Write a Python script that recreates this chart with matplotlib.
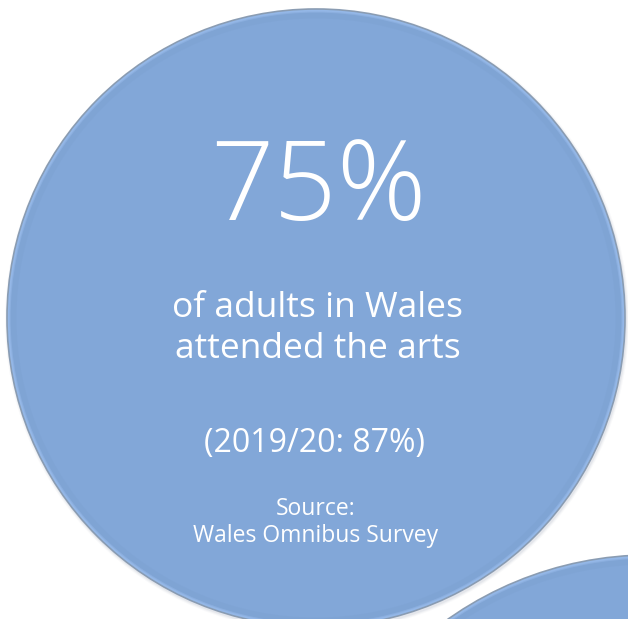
import matplotlib
matplotlib.use("Agg")
import matplotlib.pyplot as plt
from matplotlib.patches import Circle

# headline figures
headline = "75%"
caption_lines = ["of adults in Wales", "attended the arts"]
comparison = "(2019/20: 87%)"
source_lines = ["Source:", "Wales Omnibus Survey"]

FILL = "#82a7d8"
EDGE = "#8a9cb2"
RIM = "#a3c6f4"
FONT = ["Open Sans", "DejaVu Sans"]

W, H = 628, 619
fig = plt.figure(figsize=(W / 100, H / 100), dpi=100)
ax = fig.add_axes([0, 0, 1, 1])
ax.set_xlim(0, W)
ax.set_ylim(H, 0)
ax.set_aspect("equal")
ax.axis("off")


def bubble(cx, cy, r):
    # soft outer shadow
    for i, a in enumerate([0.04, 0.06, 0.09]):
        ax.add_patch(Circle((cx + 1, cy + 2), r + 3 - i, color="#6d7f95", alpha=a, lw=0))
    ax.add_patch(Circle((cx, cy), r, facecolor=FILL, edgecolor=EDGE, lw=1.2))
    ax.add_patch(Circle((cx, cy), r - 2.2, facecolor="none", edgecolor=RIM, lw=2.0, alpha=0.55))
    ax.add_patch(Circle((cx, cy), r - 6, facecolor="none", edgecolor="#7b9fcf", lw=5, alpha=0.35))


bubble(650, 905, 350)
bubble(316, 318, 309)

ax.text(318, 220, headline, ha="center", va="baseline", color="white",
        fontsize=80, family=FONT, fontweight="light")
ax.text(318, 317, caption_lines[0], ha="center", va="baseline", color="white",
        fontsize=25.5, family=FONT)
ax.text(318, 358, caption_lines[1], ha="center", va="baseline", color="white",
        fontsize=25.5, family=FONT)
ax.text(315, 452, comparison, ha="center", va="baseline", color="white",
        fontsize=23, family=FONT)
ax.text(316, 515, source_lines[0], ha="center", va="baseline", color="white",
        fontsize=16.5, family=FONT)
ax.text(316, 542, source_lines[1], ha="center", va="baseline", color="white",
        fontsize=16.5, family=FONT)

fig.savefig("out.png", dpi=100)
